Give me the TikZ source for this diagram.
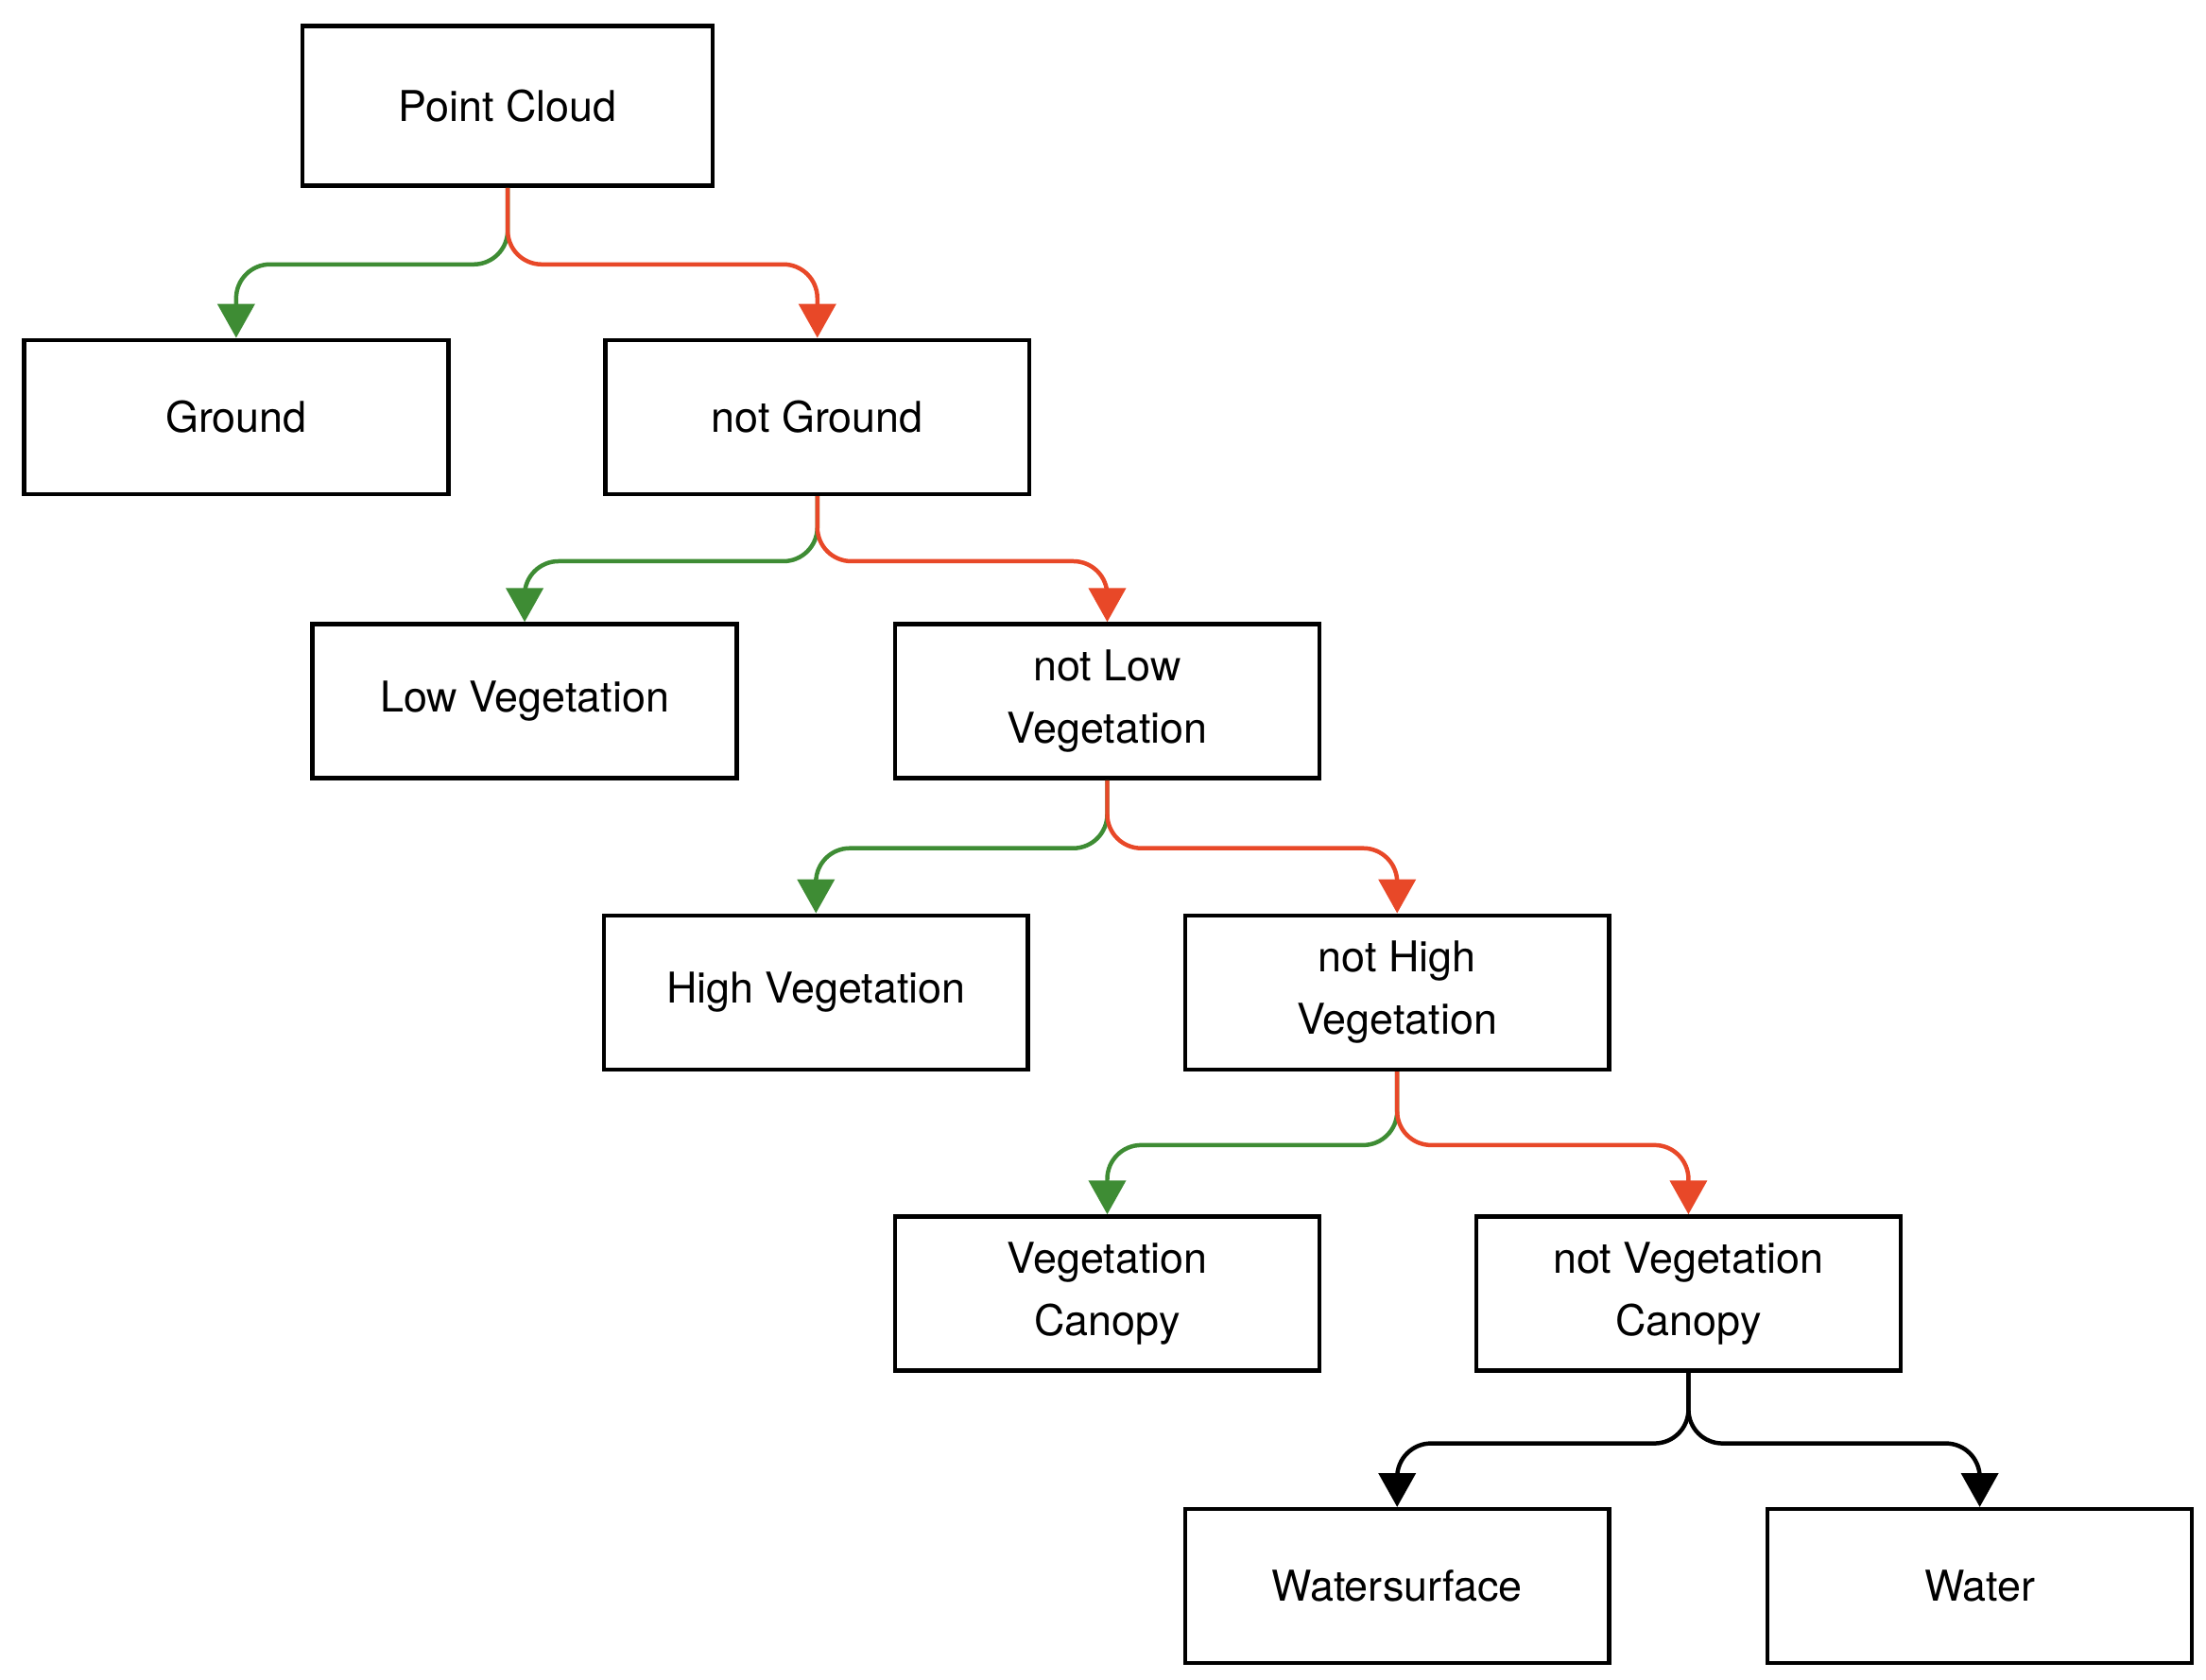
\documentclass[tikz,border=0pt]{standalone}
\usepackage{fontspec}
\setmainfont{TeX Gyre Heros}
\usetikzlibrary{arrows.meta}
\definecolor{gr}{RGB}{62,140,52}
\definecolor{rd}{RGB}{232,72,40}
\begin{document}
\begin{tikzpicture}[x=1pt,y=-1pt,
  box/.style={draw,line width=3pt,minimum width=300pt,minimum height=109pt,inner sep=0pt,align=center,font=\fontsize{30}{44}\selectfont},
  con/.style={line width=3pt,rounded corners=24pt,-{Triangle[length=24pt,width=26pt]}},
  g/.style={con,draw=gr},
  r/.style={con,draw=rd},
  k/.style={con,draw=black}]
\useasboundingbox (0,0) rectangle (1560,1188);
\node[box,minimum width=290pt,minimum height=113pt] (pc) at (359,75) {Point Cloud};
\node[box] (g) at (167,295) {Ground};
\node[box] (ng) at (578,295) {not Ground};
\node[box] (lv) at (371,496) {Low Vegetation};
\node[box] (nlv) at (783,496) {not Low\\Vegetation};
\node[box] (hv) at (577,702) {High Vegetation};
\node[box] (nhv) at (988,702) {not High\\Vegetation};
\node[box] (vc) at (783,915) {Vegetation\\Canopy};
\node[box] (nvc) at (1194,915) {not Vegetation\\Canopy};
\node[box] (ws) at (988,1122) {Watersurface};
\node[box] (w) at (1400,1122) {Water};
\draw[g] (pc.south) -- ++(0,54) -| (g.north);
\draw[r] (pc.south) -- ++(0,54) -| (ng.north);
\draw[g] (ng.south) -- ++(0,46) -| (lv.north);
\draw[r] (ng.south) -- ++(0,46) -| (nlv.north);
\draw[g] (nlv.south) -- ++(0,48) -| (hv.north);
\draw[r] (nlv.south) -- ++(0,48) -| (nhv.north);
\draw[g] (nhv.south) -- ++(0,52) -| (vc.north);
\draw[r] (nhv.south) -- ++(0,52) -| (nvc.north);
\draw[k] (nvc.south) -- ++(0,50) -| (ws.north);
\draw[k] (nvc.south) -- ++(0,50) -| (w.north);
\end{tikzpicture}
\end{document}
